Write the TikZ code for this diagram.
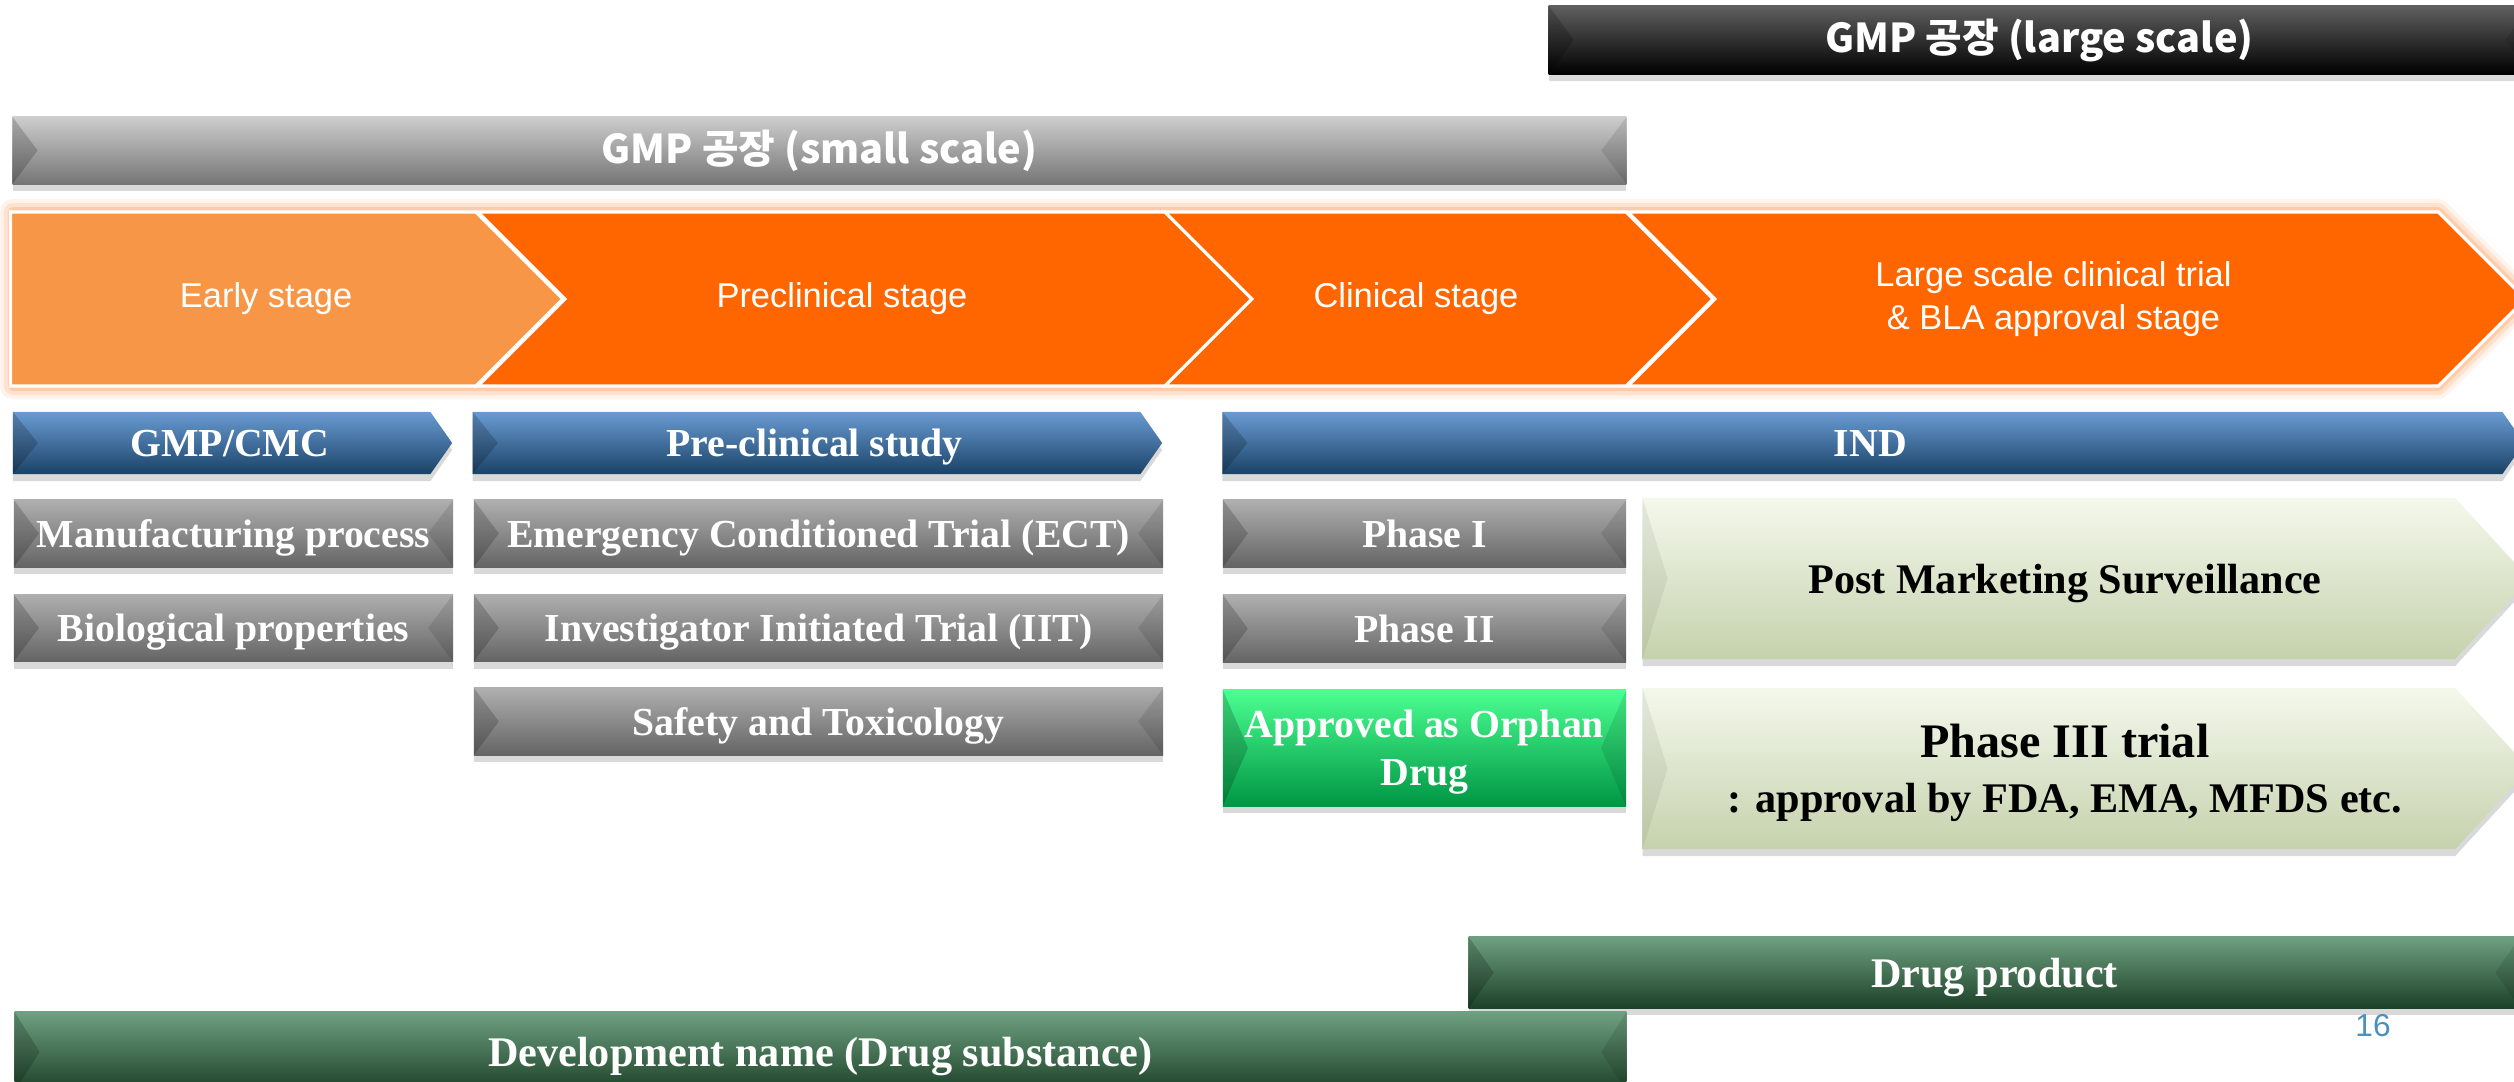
\documentclass[tikz,border=0pt]{standalone}
\usepackage{fontspec}
\setmainfont{Liberation Serif}
\newfontfamily\sansf{Liberation Sans}
\newfontfamily\krfont{Noto Sans CJK KR}
\usepackage{tikz}
\usetikzlibrary{shapes.symbols,shadows,calc}
\definecolor{earlyorange}{RGB}{247,150,70}
\definecolor{mainorange}{RGB}{255,102,0}
\definecolor{blueTop}{RGB}{105,155,210}
\definecolor{blueBody}{RGB}{31,78,121}
\definecolor{grayTop}{RGB}{175,175,175}
\definecolor{grayBody}{RGB}{118,118,118}
\definecolor{barGrayTop}{RGB}{205,205,205}
\definecolor{barGrayBody}{RGB}{138,138,138}
\definecolor{darkTop}{RGB}{95,95,95}
\definecolor{darkBody}{RGB}{36,36,36}
\definecolor{greenTop}{RGB}{75,255,145}
\definecolor{greenBody}{RGB}{0,176,80}
\definecolor{paleTop}{RGB}{244,248,236}
\definecolor{paleBody}{RGB}{215,228,188}
\definecolor{forestTop}{RGB}{110,160,128}
\definecolor{forestBody}{RGB}{33,76,47}
\definecolor{pageblue}{RGB}{74,144,196}

\tikzset{
  bevelleft/.style={path picture={
    \fill[black, opacity=#1] let \p1=(path picture bounding box.north west), \p2=(path picture bounding box.south west)
      in (\p1) -- ({\x1+2.5mm},{0.5*(\y1+\y2)}) -- (\p2) -- cycle;}},
  bevelleft/.default=.18,
  bevel/.style={path picture={
    \fill[black, opacity=.18] let \p1=(path picture bounding box.north west), \p2=(path picture bounding box.south west)
      in (\p1) -- ({\x1+2.5mm},{0.5*(\y1+\y2)}) -- (\p2) -- cycle;
    \fill[black, opacity=.10] let \p1=(path picture bounding box.north east), \p2=(path picture bounding box.south east)
      in (\p1) -- ({\x1-2.5mm},{0.5*(\y1+\y2)}) -- (\p2) -- cycle;}},
  softshadow/.style={drop shadow={shadow xshift=0pt, shadow yshift=-0.7mm, opacity=.3}},
}

\begin{document}
\begin{tikzpicture}[x=0.01cm, y=-0.01cm,
  stagebox/.style={signal, signal to=east, signal pointer angle=90, draw=white, line width=0.9pt,
    minimum height=1.74cm, inner sep=1pt, align=center, text=white, font=\sansf\fontsize{9.8}{12.2}\selectfont,
    execute at end node={\hspace*{4.6mm}}},
  earlystage/.style={stagebox, fill=earlyorange, execute at end node={}, execute at begin node={\hspace*{9.2mm}}},
  midstage/.style={stagebox, signal from=west, fill=mainorange},
  tabarrow/.style={signal, signal to=east, signal pointer angle=110, minimum height=0.62cm, inner sep=1pt, anchor=east,
    top color=blueTop, middle color=blueBody, bottom color=blueBody!85!black, bevelleft, softshadow,
    text=white, text depth=0pt, font=\bfseries\fontsize{11.3}{13}\selectfont,
    execute at begin node={\hspace*{1.6mm}}},
  graybox/.style={rectangle, minimum height=0.67cm, inner sep=1pt,
    top color=grayTop, middle color=grayBody, bottom color=grayBody!85!black, bevel, softshadow,
    text=white, text depth=0pt, font=\bfseries\fontsize{11.3}{13}\selectfont},
  greenbox/.style={graybox, top color=greenTop, middle color=greenBody, bottom color=greenBody!85!black,
    align=center, font=\bfseries\fontsize{11.3}{13.7}\selectfont},
  palearrow/.style={signal, signal to=east, signal pointer angle=95, minimum height=1.61cm, inner sep=1pt, anchor=east,
    top color=paleTop, middle color=paleBody, bottom color=paleBody!92!black, bevelleft=.06, softshadow,
    align=center, text=black, text depth=0pt, font=\bfseries\fontsize{12}{15.6}\selectfont,
    execute at begin node={\hspace*{3.2mm}}},
  gmpbar/.style={rectangle, inner sep=1pt, bevel, softshadow, text=white, font=\krfont\bfseries\fontsize{11.3}{13}\selectfont},
  forestbar/.style={rectangle, inner sep=1pt, top color=forestTop, middle color=forestBody, bottom color=forestBody!85!black,
    bevel, softshadow, text=white, text depth=0pt, font=\bfseries\fontsize{12}{14}\selectfont},
]
\useasboundingbox (0,0) rectangle (2514,1081);
\clip (0,0) rectangle (2514,1081);

% GMP bars
\node[gmpbar, top color=darkTop, middle color=darkBody, bottom color=black, minimum width=9.81cm, minimum height=0.68cm] (gmpLarge) at (2039.5,40) {GMP 공장 (large scale)};
\node[gmpbar, top color=barGrayTop, middle color=barGrayBody, bottom color=barGrayBody!85!black, minimum width=16.13cm, minimum height=0.67cm] (gmpSmall) at (819.5,150.5) {GMP 공장 (small scale)};

% stage chevrons
\foreach \w/\o in {2.6mm/.08, 1.8mm/.12, 1.0mm/.18}
  \draw[mainorange, line width=\w, opacity=\o, line join=round] (13,212) -- (2438,212) -- (2525,299) -- (2438,386) -- (13,386) -- cycle;
\node[earlystage, minimum width=5.52cm, anchor=east] (early) at (565,299) {Early stage};
\node[midstage, minimum width=7.74cm] (preclin) at (865,299) {Preclinical stage};
\node[midstage, minimum width=5.48cm] (clinical) at (1439,299) {Clinical stage};
\node[midstage, minimum width=8.97cm] (largeStage) at (2076.5,299) {Large scale clinical trial\\\& BLA approval stage};

% blue headers
\node[tabarrow, minimum width=4.39cm] (gmpCmc) at (453,443) {GMP/CMC};
\node[tabarrow, minimum width=6.89cm] (preStudy) at (1163,443) {Pre-clinical study};
\node[tabarrow, minimum width=13.01cm] (ind) at (2525,443) {IND};

% gray items
\node[graybox, minimum width=4.39cm] (manuf) at (233.5,533.5) {Manufacturing process};
\node[graybox, minimum width=4.39cm] (bioProp) at (233.5,628) {Biological properties};
\node[graybox, minimum width=6.89cm] (ect) at (818.5,533.5) {Emergency Conditioned Trial (ECT)};
\node[graybox, minimum width=6.89cm] (iit) at (818.5,628) {Investigator Initiated Trial (IIT)};
\node[graybox, minimum width=6.89cm] (safety) at (818.5,721.5) {Safety and Toxicology};
\node[graybox, minimum width=4.03cm] (phaseOne) at (1424.5,533.5) {Phase I};
\node[graybox, minimum width=4.03cm] (phaseTwo) at (1424.5,628.5) {Phase II};
\node[greenbox, minimum width=4.03cm, minimum height=1.16cm] (orphan) at (1424.5,748) {Approved as Orphan\\Drug};

% pale arrows
\node[palearrow, minimum width=8.86cm] (pms) at (2530,578.5) {Post Marketing Surveillance};
\node[palearrow, minimum width=8.86cm] (phaseThree) at (2530,768.5) {{\fontsize{13.7}{16}\selectfont Phase III trial}\\: approval by FDA, EMA, MFDS etc.};

% substance / product bars
\node[forestbar, minimum width=10.51cm, minimum height=0.71cm] (drugProduct) at (1994.5,972.5) {Drug product};
\node[forestbar, minimum width=16.11cm, minimum height=0.80cm] (devName) at (820.5,1052) {Development name (Drug substance)};

\node[text=pageblue, font=\sansf\fontsize{9}{10}\selectfont] (pageNum) at (2373,1026) {16};
\end{tikzpicture}
\end{document}
